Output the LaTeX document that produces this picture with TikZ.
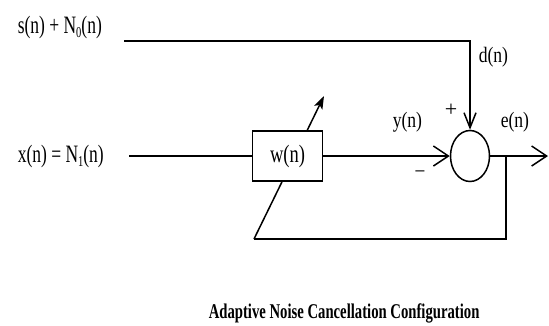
\documentclass[tikz,border=0pt]{standalone}
\usepackage{fontspec}
\setmainfont{Liberation Serif}
\usetikzlibrary{arrows.meta,shapes.geometric}
\newcommand\sqz[2]{\scalebox{#1}[1]{#2}}
\newcommand\lowsub[1]{\raisebox{-0.35ex}{\fontsize{15}{15}\selectfont #1}}
\begin{document}
\begin{tikzpicture}[x=1pt,y=-1pt,
  line width=1.5pt,
  lbl/.style={inner sep=0pt,font=\fontsize{25}{30}\selectfont},
  rlbl/.style={inner sep=0pt,font=\fontsize{22}{26}\selectfont},
  blockbox/.style={draw,fill=white,minimum width=70pt,minimum height=50pt,inner sep=0pt,font=\fontsize{25}{30}\selectfont},
  sumnode/.style={draw,ellipse,minimum width=39pt,minimum height=51pt,inner sep=0pt},
  barbh/.style={-{Straight Barb[length=15pt,width=20pt,line width=1.5pt]}},
  barbv/.style={-{Straight Barb[length=15pt,width=12pt,line width=1.5pt]}},
  adapt/.style={-{Stealth[length=13pt,width=9pt,inset=3pt]}}
]
\useasboundingbox (0,0) rectangle (549,325);
% adaptation arrow (passes behind the box)
\coordinate (fbL) at (254,239);
\coordinate (adtip) at (324,96);
\draw[adapt] (fbL) -- (adtip);
% nodes
\node[blockbox] (w) at (287.5,156) {\sqz{0.74}{w(n)}};
\node[sumnode] (sum) at (470,156) {};
\coordinate (inS) at (124,41);
\coordinate (inX) at (129,156);
\coordinate (outE) at (548,156);
\coordinate (tap) at (506,156);
\coordinate (corner) at (sum.north |- inS);
% connectors
\draw[barbv] (inS) -- (corner) -- (sum.north);
\draw (inX) -- (w.west);
\draw[barbh] (w.east) -- (sum.west);
\draw[barbh] (sum.east) -- (outE);
\draw (tap) -- (tap |- fbL) -- (fbL);
% labels
\node[lbl,anchor=base west] (ls) at (17,33) {\sqz{0.7}{s(n) + N\lowsub{0}(n)}};
\node[lbl,anchor=base west] (lx) at (17,162) {\sqz{0.7}{x(n) = N\lowsub{1}(n)}};
\node[rlbl,anchor=base west] (ld) at (478,62) {\sqz{0.8}{d(n)}};
\node[rlbl,anchor=base west] (ly) at (392,127) {\sqz{0.8}{y(n)}};
\node[rlbl,anchor=base west] (le) at (500,127) {\sqz{0.8}{e(n)}};
\node[rlbl] (lplus) at (451,110) {+};
\node[rlbl] (lminus) at (420,174) {\sqz{0.8}{--}};
\node[inner sep=0pt,anchor=base west,font=\bfseries\fontsize{21}{25}\selectfont] (cap) at (208,318) {\sqz{0.7}{Adaptive Noise Cancellation Configuration}};
\end{tikzpicture}
\end{document}
